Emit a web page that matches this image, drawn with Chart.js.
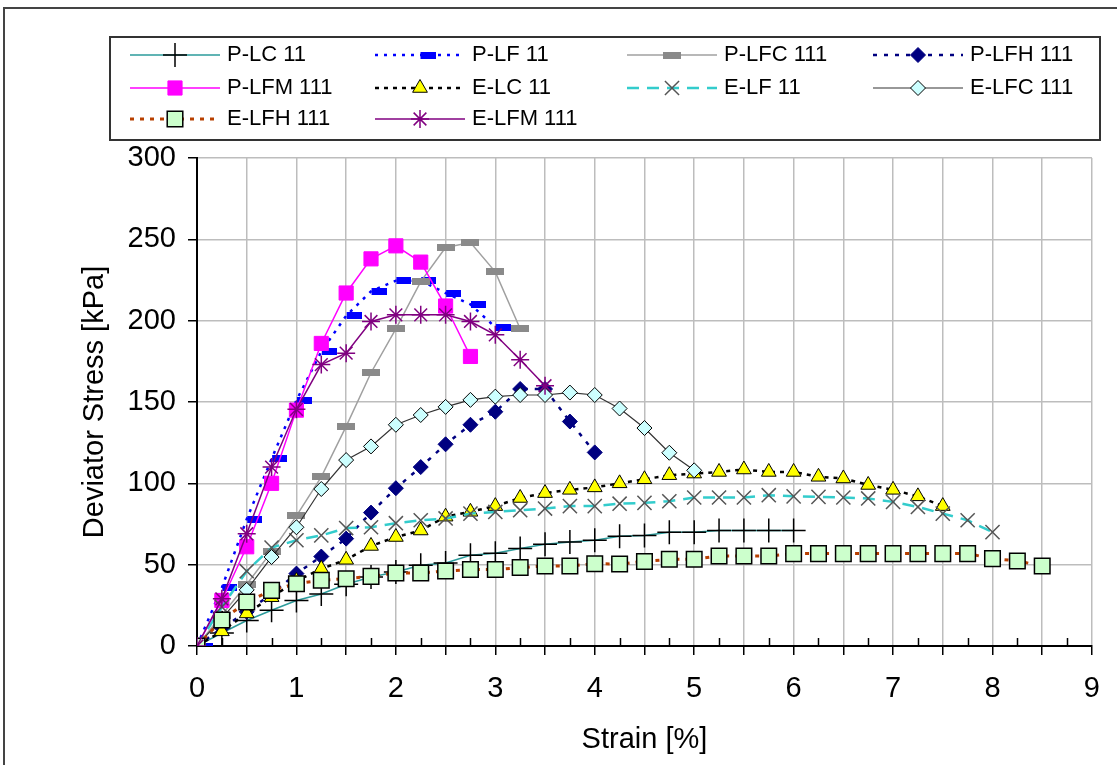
<!DOCTYPE html>
<html>
<head>
<meta charset="UTF-8">
<title>Deviator Stress vs Strain</title>
<style>
    body { margin: 0; background: #fff; }
    #chart { display: block; }
</style>
</head>
<body>

<canvas id="chart" width="1117" height="765"></canvas>

<script src="https://cdn.jsdelivr.net/npm/chart.js"></script>
<script>

    // strain steps shared by all tests [%]
    var strain = [0, 0.25, 0.5, 0.75, 1, 1.25, 1.5, 1.75, 2, 2.25, 2.5, 2.75, 3, 3.25, 3.5, 3.75, 4,
                  4.25, 4.5, 4.75, 5, 5.25, 5.5, 5.75, 6, 6.25, 6.5, 6.75, 7, 7.25, 7.5, 7.75, 8, 8.25, 8.5];

    // deviator stress [kPa], one value per strain step
    var P_LC_11   = [0, 8, 15.7, 22, 28, 32, 38, 42.4, 45.5, 49.6, 51, 55.8, 57, 60, 62.5, 64, 65, 67.5, 68, 70, 70, 71, 71, 71, 71];
    var P_LF_11   = [0, 35.8, 78, 115, 151, 181, 203, 218, 224.6, 224.6, 217, 210, 196];
    var P_LFC_111 = [0, 19, 38, 58, 80, 104, 135, 168, 195, 224, 245, 248, 230, 195];
    var P_LFH_111 = [0, 11, 21, 32, 44.5, 55, 66, 82, 97, 110, 124, 136, 144, 158, 158, 138, 119];
    var P_LFM_111 = [0, 28, 61, 100, 145, 186, 217, 238, 246, 236, 209, 178];
    var E_LC_11   = [0, 9, 20, 30, 40, 47.5, 53, 61.5, 67, 71, 79.5, 82.5, 86, 91, 94, 96, 97.5, 100, 102.5, 105,
                     106, 107, 108.5, 107, 107, 104, 103, 99, 96, 92, 86];
    var E_LF_11   = [0, 24, 46, 60.5, 65, 68, 72.5, 73, 75.5, 77.3, 78.4, 81.4, 82.4, 83.5, 84.5, 86, 86, 87.5, 88, 89,
                     91.3, 91.3, 91.3, 92.7, 92, 91.7, 91.3, 90.7, 88.6, 85.5, 81.4, 77.3, 70];
    var E_LFC_111 = [0, 17, 34.5, 54.7, 73, 96.5, 114.3, 122.7, 136, 142, 147, 151.3, 153.3, 154.3, 154.3, 155.8,
                     154.3, 146, 134, 118.8, 108];
    var E_LFH_111 = [0, 16, 27, 34.2, 38.3, 40.4, 41.4, 42.8, 44.9, 44.9, 46.1, 47, 47, 48.2, 49.2, 49.2, 50.6, 50.4,
                     52, 53.3, 53.3, 55.3, 55.3, 55.3, 56.8, 56.8, 56.8, 56.8, 56.8, 56.8, 56.8, 56.8, 53.7, 52.3, 49.2];
    var E_LFM_111 = [0, 29, 69, 110, 145.5, 173, 180, 199.5, 203.6, 203.6, 203.6, 199.5, 191.3, 176, 160];

    var names = ["P-LC 11", "P-LF 11", "P-LFC 111", "P-LFH 111", "P-LFM 111",
                 "E-LC 11", "E-LF 11", "E-LFC 111", "E-LFH 111", "E-LFM 111"];
    var values = [P_LC_11, P_LF_11, P_LFC_111, P_LFH_111, P_LFM_111,
                  E_LC_11, E_LF_11, E_LFC_111, E_LFH_111, E_LFM_111];

    var font_family = '"Liberation Sans", Arial, sans-serif';

    // little bar-shaped markers (excel "dash" markers)
    function bar_marker(w, h, color, shift){
        var c = document.createElement('canvas');
        c.width = w + 2 * shift;
        c.height = h;
        var g = c.getContext('2d');
        g.fillStyle = color;
        g.fillRect(2 * shift, 0, w, h);
        return c;
    }
    var blue_dash = bar_marker(15, 7, '#0000ff', 8);
    var grey_dash = bar_marker(18, 7, '#8a8a8a', 0);

    // line + marker look of every series
    var looks = [
        {line: '#2b9b9b', width: 1.5, dash: [],      marker: 'cross',    r: 12,  fill: '#000',    edge: '#000',    bw: 1.5},
        {line: '#0000ff', width: 2.5, dash: [3, 6],  marker: blue_dash,  r: 8,   fill: '#0000ff', edge: '#0000ff', bw: 0},
        {line: '#a0a0a0', width: 1.5, dash: [],      marker: grey_dash,  r: 8,   fill: '#8a8a8a', edge: '#8a8a8a', bw: 0},
        {line: '#000080', width: 2.5, dash: [4, 7],  marker: 'rectRot',  r: 7.5, fill: '#000080', edge: '#000080', bw: 1},
        {line: '#ff00ff', width: 1.5, dash: [],      marker: 'rect',     r: 10,  fill: '#ff00ff', edge: '#ff00ff', bw: 1},
        {line: '#000000', width: 2.5, dash: [4, 5],  marker: 'triangle', r: 8.5, fill: '#ffff00', edge: '#000',    bw: 1},
        {line: '#33cccc', width: 2.5, dash: [12, 8], marker: 'crossRot', r: 10,  fill: '#555',    edge: '#555',    bw: 1.5},
        {line: '#333333', width: 1.2, dash: [],      marker: 'rectRot',  r: 7.5, fill: '#ccffff', edge: '#000',    bw: 1},
        {line: '#b84000', width: 3,   dash: [4, 6],  marker: 'rect',     r: 11,  fill: '#ccffcc', edge: '#000',    bw: 1.5},
        {line: '#800080', width: 1.5, dash: [],      marker: 'star',     r: 9,   fill: '#800080', edge: '#800080', bw: 1.5}
    ];

    var datasets = names.map(function(name, i){
        var lk = looks[i];
        return {
            label: name,
            data: values[i].map(function(v, k){ return {x: strain[k], y: v}; }),
            showLine: true,
            borderColor: lk.line,
            borderWidth: lk.width,
            borderDash: lk.dash,
            pointStyle: lk.marker,
            pointRadius: lk.r,
            pointBackgroundColor: lk.fill,
            pointBorderColor: lk.edge,
            pointBorderWidth: lk.bw,
            // later series sit on top
            order: names.length - i
        };
    });

    // white page + outer frame
    var frame_plugin = {
        id: 'frame',
        beforeDraw: function(chart){
            var ctx = chart.ctx;
            ctx.save();
            ctx.fillStyle = '#fff';
            ctx.fillRect(0, 0, chart.width, chart.height);
            ctx.strokeStyle = '#444';
            ctx.lineWidth = 2;
            ctx.strokeRect(4, 8, chart.width + 40, chart.height + 40);
            ctx.restore();
        }
    };

    // minor x ticks (inside) and the boxed legend
    var legend_cols = [130, 375, 627, 873];
    var legend_rows = [55, 88, 119];

    var extras_plugin = {
        id: 'extras',
        afterDraw: function(chart){
            var ctx = chart.ctx;
            var xs = chart.scales.x;
            var bottom = chart.chartArea.bottom;
            ctx.save();

            ctx.strokeStyle = '#000';
            ctx.lineWidth = 1.5;
            for (var v = 0.25; v < 9; v += 0.5){
                var px = Math.round(xs.getPixelForValue(v)) + 0.5;
                ctx.beginPath();
                ctx.moveTo(px, bottom);
                ctx.lineTo(px, bottom - 8);
                ctx.stroke();
            }

            ctx.strokeStyle = '#333';
            ctx.lineWidth = 2;
            ctx.strokeRect(110, 37, 990, 103);

            chart.data.datasets.forEach(function(ds, i){
                var x0 = legend_cols[i % 4];
                var y = legend_rows[Math.floor(i / 4)];

                ctx.strokeStyle = ds.borderColor;
                ctx.lineWidth = ds.borderWidth;
                ctx.setLineDash(ds.borderDash);
                ctx.beginPath();
                ctx.moveTo(x0, y);
                ctx.lineTo(x0 + 90, y);
                ctx.stroke();
                ctx.setLineDash([]);

                ctx.fillStyle = ds.pointBackgroundColor;
                ctx.strokeStyle = ds.pointBorderColor;
                ctx.lineWidth = ds.pointBorderWidth;
                Chart.helpers.drawPoint(ctx, {
                    pointStyle: ds.pointStyle,
                    radius: ds.pointRadius,
                    rotation: 0,
                    borderWidth: ds.pointBorderWidth
                }, x0 + 45, y);

                ctx.fillStyle = '#000';
                ctx.font = '22px ' + font_family;
                ctx.textAlign = 'left';
                ctx.textBaseline = 'middle';
                ctx.fillText(ds.label, x0 + 97, y);
            });
            ctx.restore();
        }
    };

    var axis_font = {family: font_family, size: 29};

    var config = {
        type: 'scatter',
        data: {datasets: datasets},
        options: {
            responsive: false,
            animation: false,
            devicePixelRatio: 1,
            layout: {padding: {left: 0, right: 22, top: 158, bottom: 0}},
            plugins: {
                legend: {display: false},
                tooltip: {enabled: false}
            },
            scales: {
                x: {
                    type: 'linear',
                    min: 0,
                    max: 9,
                    ticks: {
                        stepSize: 0.5,
                        autoSkip: false,
                        maxRotation: 0,
                        color: '#000',
                        font: axis_font,
                        padding: 17,
                        callback: function(v){ return Number.isInteger(v) ? v : ''; }
                    },
                    grid: {color: '#bdbdbd', lineWidth: 1.5, tickColor: '#000', tickLength: 9, tickWidth: 1.5},
                    border: {color: '#000', width: 2},
                    title: {display: true, text: 'Strain [%]', color: '#000', font: axis_font, padding: {top: 0, bottom: 8}},
                    afterFit: function(s){ s.height = 119; }
                },
                y: {
                    min: 0,
                    max: 300,
                    ticks: {stepSize: 50, color: '#000', font: axis_font, padding: 12},
                    grid: {color: '#bdbdbd', lineWidth: 1.5, tickColor: '#000', tickLength: 9, tickWidth: 1.5},
                    border: {color: '#000', width: 2},
                    title: {display: true, text: 'Deviator Stress [kPa]', color: '#000', font: axis_font, padding: {top: 78, bottom: 0}},
                    afterFit: function(s){ s.width = 197; }
                }
            }
        },
        plugins: [frame_plugin, extras_plugin]
    };

    window.myChart_stress = new Chart(document.getElementById('chart'), config);

</script>
</body>
</html>
